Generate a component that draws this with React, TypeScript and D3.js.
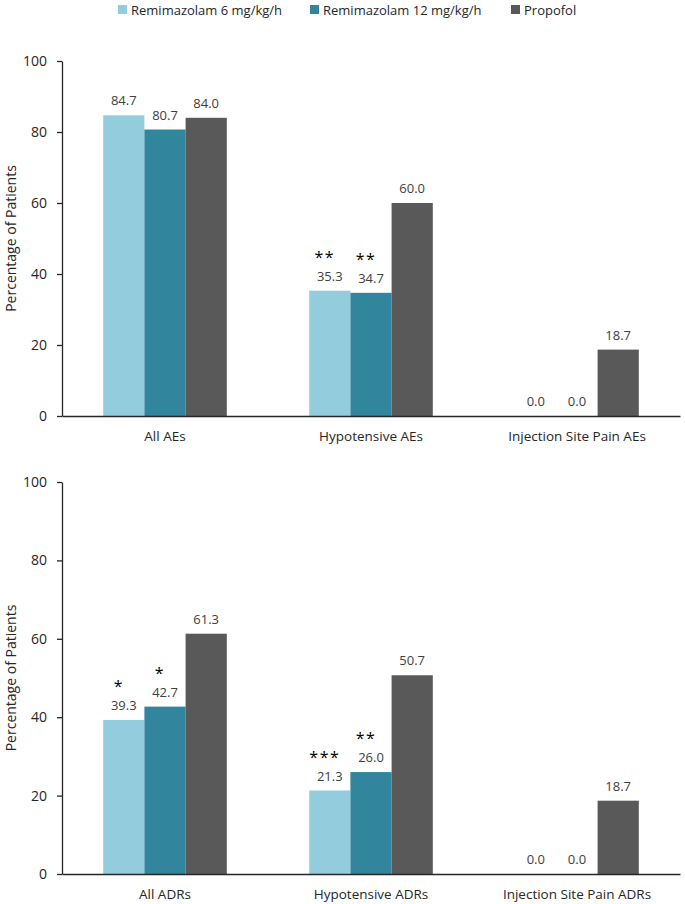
import React, { useEffect, useRef } from "react";
import * as d3 from "d3";

const seriesNames = ["Remimazolam 6 mg/kg/h", "Remimazolam 12 mg/kg/h", "Propofol"];
const seriesColors = ["#93CDDD", "#31859C", "#595959"];

const aeCategories = ["All AEs", "Hypotensive AEs", "Injection Site Pain AEs"];
const aeRemi6 = [84.7, 35.3, 0.0];
const aeRemi12 = [80.7, 34.7, 0.0];
const aePropofol = [84.0, 60.0, 18.7];
const aeStars6 = ["", "**", ""];
const aeStars12 = ["", "**", ""];

const adrCategories = ["All ADRs", "Hypotensive ADRs", "Injection Site Pain ADRs"];
const adrRemi6 = [39.3, 21.3, 0.0];
const adrRemi12 = [42.7, 26.0, 0.0];
const adrPropofol = [61.3, 50.7, 18.7];
const adrStars6 = ["*", "***", ""];
const adrStars12 = ["*", "**", ""];

const yTicks = [0, 20, 40, 60, 80, 100];

const FONT = "'Open Sans', sans-serif";

export default function App() {
  const ref = useRef(null);

  useEffect(() => {
    document.body.style.margin = "0";
    const root = d3.select(ref.current);
    root.selectAll("*").remove();

    const svg = root
      .append("svg")
      .attr("width", 685)
      .attr("height", 904)
      .style("font-family", FONT)
      .style("display", "block");

    // legend
    const legendX = [118, 310, 511];
    seriesNames.forEach((name, i) => {
      const g = svg.append("g").attr("transform", `translate(${legendX[i]},10)`);
      g.append("rect").attr("x", 0).attr("y", -5).attr("width", 9).attr("height", 9).attr("fill", seriesColors[i]);
      g.append("text")
        .attr("x", 13)
        .attr("y", 0)
        .attr("dy", "0.35em")
        .attr("font-size", 13)
        .attr("fill", "#262626")
        .text(name);
    });

    const drawPanel = (opts) => {
      const { top, bottom, categories, series, stars } = opts;
      const left = 62;
      const right = 680;

      const x = d3.scaleBand().domain(categories).range([left, right]).paddingInner(0.4).paddingOuter(0.2);
      const xs = d3.scaleBand().domain(d3.range(series.length)).range([0, x.bandwidth()]);
      const y = d3.scaleLinear().domain([0, 100]).range([bottom, top]);

      const g = svg.append("g");

      // bars
      series.forEach((vals, si) => {
        g.selectAll(null)
          .data(vals)
          .enter()
          .append("rect")
          .attr("x", (d, i) => x(categories[i]) + xs(si))
          .attr("y", (d) => y(d))
          .attr("width", xs.bandwidth())
          .attr("height", (d) => y(0) - y(d))
          .attr("fill", seriesColors[si]);

        g.selectAll(null)
          .data(vals)
          .enter()
          .append("text")
          .attr("x", (d, i) => x(categories[i]) + xs(si) + xs.bandwidth() / 2)
          .attr("y", (d) => y(d) - 10)
          .attr("text-anchor", "middle")
          .attr("font-size", 13)
          .attr("fill", "#404040")
          .text((d) => d.toFixed(1));
      });

      // significance stars
      stars.forEach((arr, si) => {
        g.selectAll(null)
          .data(arr)
          .enter()
          .append("text")
          .attr("x", (d, i) => x(categories[i]) + xs(si) + xs.bandwidth() / 2 - 5)
          .attr("y", (d, i) => y(series[si][i]) - 28)
          .attr("text-anchor", "middle")
          .attr("font-size", 16)
          .attr("letter-spacing", 1.5)
          .attr("fill", "#000")
          .text((d) => d);
      });

      // y axis
      const yAxis = g
        .append("g")
        .attr("transform", `translate(${left},0)`)
        .call(d3.axisLeft(y).tickValues(yTicks).tickSize(5).tickSizeOuter(0).tickPadding(10));
      yAxis.select(".domain").attr("stroke", "#262626").attr("stroke-width", 1.3);
      yAxis.selectAll(".tick line").attr("stroke", "#262626").attr("stroke-width", 1.3);
      yAxis.selectAll(".tick text").attr("font-size", 14).attr("font-family", FONT).attr("fill", "#262626");

      // x axis
      const xAxis = g
        .append("g")
        .attr("transform", `translate(0,${bottom})`)
        .call(d3.axisBottom(x).tickSize(0).tickPadding(15));
      xAxis.select(".domain").attr("stroke", "#262626").attr("stroke-width", 1.3);
      xAxis.selectAll(".tick text").attr("font-size", 13.5).attr("font-family", FONT).attr("fill", "#262626");

      // y title
      g.append("text")
        .attr("transform", `translate(11,${(top + bottom) / 2}) rotate(-90)`)
        .attr("text-anchor", "middle")
        .attr("dy", "0.35em")
        .attr("font-size", 14)
        .attr("fill", "#262626")
        .text("Percentage of Patients");
    };

    drawPanel({
      top: 61,
      bottom: 416,
      categories: aeCategories,
      series: [aeRemi6, aeRemi12, aePropofol],
      stars: [aeStars6, aeStars12],
    });

    drawPanel({
      top: 482,
      bottom: 874,
      categories: adrCategories,
      series: [adrRemi6, adrRemi12, adrPropofol],
      stars: [adrStars6, adrStars12],
    });
  }, []);

  return <div ref={ref} />;
}
